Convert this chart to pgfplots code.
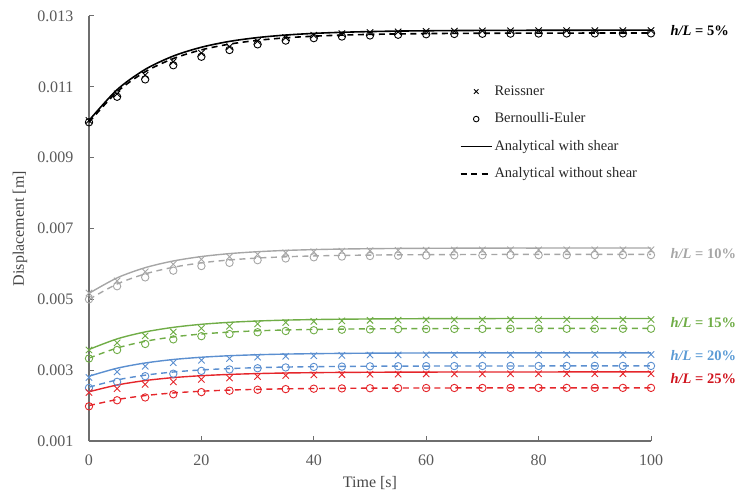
\documentclass[border=0pt]{standalone}
\usepackage{fontspec}
\setmainfont{Liberation Serif}
\usepackage{pgfplots}
\usepackage{pgfplotstable}
\pgfplotsset{compat=1.18}
\definecolor{cgray}{HTML}{A6A6A6}
\definecolor{cgreen}{HTML}{70AD47}
\definecolor{cblue}{HTML}{5B8FD0}
\definecolor{cred}{HTML}{E5262B}
\definecolor{lblue}{HTML}{5B9BD5}
\definecolor{lred}{HTML}{D0141E}
\definecolor{axgray}{HTML}{6E6E6E}
\definecolor{txgray}{HTML}{595959}

\pgfplotstableread{
t   s5       d5       s10      d10      s15      d15      s20      d20      s25      d25
0   0.01005  0.01000  0.00517  0.00500  0.003585 0.00334  0.00283  0.00252  0.00239  0.00200
5   0.010919 0.010859 0.005606 0.005433 0.003883 0.003626 0.003055 0.002724 0.002581 0.002170
10  0.011492 0.011425 0.005894 0.005718 0.004080 0.003815 0.003203 0.002859 0.002707 0.002283
15  0.011869 0.011798 0.006083 0.005906 0.004209 0.003939 0.003301 0.002948 0.002790 0.002357
20  0.012118 0.012044 0.006208 0.006030 0.004295 0.004021 0.003365 0.003007 0.002844 0.002406
25  0.012283 0.012206 0.006291 0.006112 0.004351 0.004075 0.003408 0.003045 0.002880 0.002438
30  0.012391 0.012313 0.006345 0.006166 0.004388 0.004111 0.003436 0.003071 0.002904 0.002459
35  0.012462 0.012384 0.006381 0.006201 0.004413 0.004135 0.003454 0.003088 0.002920 0.002473
40  0.012509 0.012430 0.006404 0.006225 0.004429 0.004150 0.003466 0.003099 0.002930 0.002482
45  0.012540 0.012461 0.006420 0.006240 0.004439 0.004160 0.003474 0.003106 0.002937 0.002488
50  0.012560 0.012481 0.006430 0.006250 0.004446 0.004167 0.003480 0.003111 0.002941 0.002492
55  0.012574 0.012494 0.006437 0.006257 0.004451 0.004171 0.003483 0.003114 0.002944 0.002495
60  0.012583 0.012503 0.006441 0.006261 0.004454 0.004174 0.003486 0.003116 0.002946 0.002497
65  0.012589 0.012509 0.006444 0.006264 0.004456 0.004176 0.003487 0.003117 0.002948 0.002498
70  0.012593 0.012513 0.006446 0.006266 0.004457 0.004178 0.003488 0.003118 0.002948 0.002499
75  0.012595 0.012515 0.006448 0.006268 0.004458 0.004178 0.003489 0.003119 0.002949 0.002500
80  0.012597 0.012517 0.006448 0.006268 0.004459 0.004179 0.003489 0.003119 0.002949 0.002500
85  0.012598 0.012518 0.006449 0.006269 0.004460 0.004180 0.003490 0.003120 0.002950 0.002500
90  0.012599 0.012519 0.006450 0.006270 0.004460 0.004180 0.003490 0.003120 0.002950 0.002500
95  0.012600 0.012520 0.006450 0.006270 0.004460 0.004180 0.003490 0.003120 0.002950 0.002500
100 0.012600 0.012520 0.006450 0.006270 0.004460 0.004180 0.003490 0.003120 0.002950 0.002500
}\lines

\pgfplotstableread{
t   r5       b5       r10      b10      r15      b15      r20      b20      r25      b25
0   0.01005  0.01000  0.00518  0.00500  0.00357  0.00333  0.00279  0.00250  0.00237  0.00198
5   0.01080  0.01072  0.00552  0.00537  0.00377  0.00357  0.00295  0.00267  0.00248  0.00215
10  0.01133  0.01121  0.00578  0.00562  0.00397  0.00374  0.00311  0.00283  0.00260  0.00223
15  0.01171  0.01161  0.00599  0.00581  0.00408  0.00387  0.00321  0.00290  0.00267  0.00232
20  0.01195  0.01185  0.00613  0.00594  0.00418  0.00396  0.00328  0.00298  0.00274  0.00238
25  0.01213  0.01204  0.00620  0.00603  0.00424  0.00402  0.00333  0.00302  0.00278  0.00242
30  0.012287 0.012200 0.006268 0.006105 0.004305 0.004071 0.003368 0.003054 0.002821 0.002447
35  0.012390 0.012306 0.006313 0.006154 0.004347 0.004105 0.003392 0.003077 0.002848 0.002465
40  0.012458 0.012375 0.006343 0.006187 0.004376 0.004127 0.003408 0.003091 0.002866 0.002477
45  0.012503 0.012421 0.006362 0.006208 0.004394 0.004142 0.003419 0.003101 0.002877 0.002485
50  0.012533 0.012451 0.006375 0.006223 0.004406 0.004151 0.003426 0.003108 0.002885 0.002490
55  0.012552 0.012471 0.006384 0.006232 0.004414 0.004158 0.003431 0.003112 0.002890 0.002493
60  0.012565 0.012485 0.006389 0.006238 0.004420 0.004162 0.003434 0.003115 0.002894 0.002496
65  0.012574 0.012493 0.006393 0.006242 0.004423 0.004165 0.003436 0.003116 0.002896 0.002497
70  0.012579 0.012499 0.006395 0.006245 0.004426 0.004166 0.003437 0.003118 0.002897 0.002498
75  0.012583 0.012503 0.006397 0.006247 0.004427 0.004168 0.003438 0.003119 0.002898 0.002499
80  0.012585 0.012505 0.006398 0.006248 0.004428 0.004169 0.003439 0.003119 0.002899 0.002500
85  0.012587 0.012507 0.006399 0.006249 0.004429 0.004169 0.003440 0.003120 0.002900 0.002500
90  0.012588 0.012508 0.006400 0.006250 0.004430 0.004170 0.003440 0.003120 0.002900 0.002500
95  0.012589 0.012509 0.006400 0.006250 0.004430 0.004170 0.003440 0.003120 0.002900 0.002500
100 0.012590 0.012510 0.006400 0.006250 0.004430 0.004170 0.003440 0.003120 0.002900 0.002500
}\marks

\pgfplotsset{
  solidline/.style={line width=1.4pt, smooth, no marks},
  dashline/.style={line width=1.4pt, smooth, no marks, dash pattern=on 6pt off 4.5pt},
  rmark/.style={only marks, mark=x, mark size=4.5pt, mark options={line width=0.9pt}},
  bmark/.style={only marks, mark=o, mark size=3.7pt, mark options={line width=0.9pt}},
  legmark/.style={legend image code/.code={\path[draw=none,fill=none] (0pt,-1pt) rectangle (31pt,1pt);\draw[##1] plot coordinates {(15.5pt,0pt)};}},
  legline/.style={legend image code/.code={\draw[##1] (0pt,0pt) -- (31pt,0pt);}},
}

\begin{document}
\fontsize{16}{19}\selectfont
\begin{tikzpicture}
\useasboundingbox (-89pt,-52pt) rectangle (652pt,441pt);
\begin{axis}[
  scale only axis,
  width=562pt, height=425pt,
  xmin=0, xmax=100, ymin=0.001, ymax=0.013,
  xtick={0,20,40,60,80,100},
  ytick={0.001,0.003,0.005,0.007,0.009,0.011,0.013},
  scaled y ticks=false,
  yticklabel style={/pgf/number format/fixed, /pgf/number format/fixed zerofill, /pgf/number format/precision=3, /pgf/number format/assume math mode=true, xshift=-10pt, text=txgray},
  xticklabel style={/pgf/number format/assume math mode=true, yshift=-8pt, text=txgray},
  axis lines=left,
  axis line style={-, draw=axgray, line width=1.1pt},
  tick style={draw=axgray, line width=1pt},
  tick align=inside,
  major tick length=5pt,
  clip=false,
  xlabel={Time [s]},
  ylabel={Displacement [m]},
  every axis x label/.style={at={(axis description cs:0.5,-0.0988)}, anchor=center, text=txgray!80!black},
  every axis y label/.style={at={(axis description cs:-0.1228,0.5)}, rotate=90, anchor=center, text=txgray!80!black},
  legend style={at={(axis cs:66.0,0.011135)}, anchor=north west, draw=none, fill=none,
    inner sep=0pt, outer sep=0pt, row sep=8.5pt, text=black!85,
    font=\fontsize{14.5}{17}\selectfont,
    nodes={inner sep=2pt, text height=11pt, text depth=4pt}},
  legend cell align=left,
]
% legend
\addlegendimage{black, mark=x, mark size=3.2pt, mark options={line width=0.9pt}, legmark}
\addlegendentry{Reissner}
\addlegendimage{black, mark=o, mark size=2.8pt, mark options={line width=0.9pt}, legmark}
\addlegendentry{Bernoulli-Euler}
\addlegendimage{black, line width=1.6pt, legline}
\addlegendentry{Analytical with shear}
\addlegendimage{black, line width=1.6pt, dash pattern=on 6pt off 4.5pt, legline}
\addlegendentry{Analytical without shear}

% 5%
\addplot[black, solidline, line width=1.6pt, forget plot] table[x=t, y=s5] {\lines};
\addplot[black, dashline, line width=1.6pt, forget plot] table[x=t, y=d5] {\lines};
\addplot[black, rmark, forget plot] table[x=t, y=r5] {\marks};
\addplot[black, bmark, forget plot] table[x=t, y=b5] {\marks};
% 10%
\addplot[cgray, solidline, forget plot] table[x=t, y=s10] {\lines};
\addplot[cgray, dashline, forget plot] table[x=t, y=d10] {\lines};
\addplot[cgray, rmark, forget plot] table[x=t, y=r10] {\marks};
\addplot[cgray, bmark, forget plot] table[x=t, y=b10] {\marks};
% 15%
\addplot[cgreen, solidline, forget plot] table[x=t, y=s15] {\lines};
\addplot[cgreen, dashline, forget plot] table[x=t, y=d15] {\lines};
\addplot[cgreen, rmark, forget plot] table[x=t, y=r15] {\marks};
\addplot[cgreen, bmark, forget plot] table[x=t, y=b15] {\marks};
% 20%
\addplot[cblue, solidline, forget plot] table[x=t, y=s20] {\lines};
\addplot[cblue, dashline, forget plot] table[x=t, y=d20] {\lines};
\addplot[cblue, rmark, forget plot] table[x=t, y=r20] {\marks};
\addplot[cblue, bmark, forget plot] table[x=t, y=b20] {\marks};
% 25%
\addplot[cred, solidline, forget plot] table[x=t, y=s25] {\lines};
\addplot[cred, dashline, forget plot] table[x=t, y=d25] {\lines};
\addplot[cred, rmark, forget plot] table[x=t, y=r25] {\marks};
\addplot[cred, bmark, forget plot] table[x=t, y=b25] {\marks};

% right labels
\begin{scope}[every node/.style={anchor=west, inner sep=2pt, font=\fontsize{14.5}{17}\selectfont\bfseries}]
\node[text=black] at (axis cs:103.1,0.01258) {\textit{h/L} = 5\%};
\node[text=cgray] at (axis cs:103.1,0.00630) {\textit{h/L} = 10\%};
\node[text=cgreen] at (axis cs:103.1,0.00433) {\textit{h/L} = 15\%};
\node[text=lblue] at (axis cs:103.1,0.00340) {\textit{h/L} = 20\%};
\node[text=lred] at (axis cs:103.1,0.00275) {\textit{h/L} = 25\%};
\end{scope}
\end{axis}
\end{tikzpicture}
\end{document}
